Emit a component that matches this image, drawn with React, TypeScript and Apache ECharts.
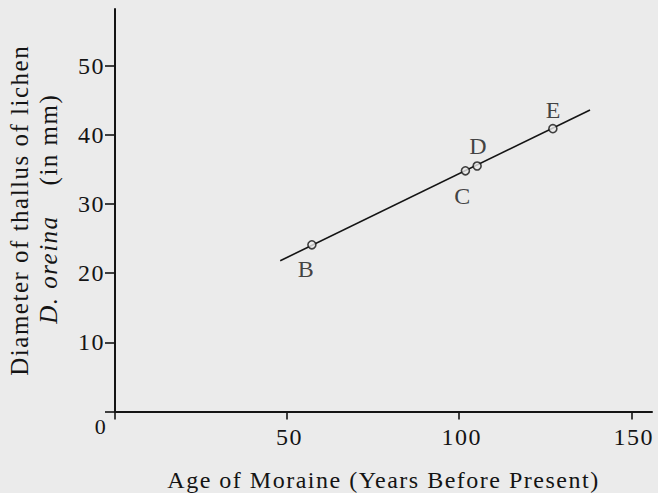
import React, { useEffect, useRef } from "react";
import * as echarts from "echarts";

// ---- data ----
const xTickValues = [0, 50, 100, 150];
const yTickValues = [0, 10, 20, 30, 40, 50];
const yLabelValues = [10, 20, 30, 40, 50];
const moraineNames = ["B", "C", "D", "E"];
const moraineAges = [57.2, 101.8, 105.2, 127.2];
const thallusDiameters = [24.1, 34.8, 35.5, 40.9];
const fitLineAges = [48, 138];
const fitLineDiameters = [21.8, 43.6];
const xAxisMax = 156;
const yAxisMax = 58.2;

const xTitle = "Age of Moraine (Years Before Present)";
const yTitleLine1 = "Diameter of thallus of lichen";
const yTitleSpecies = "D. oreina";
const yTitleUnit = "(in mm)";

const FONT = "'Liberation Serif', 'Times New Roman', serif";
const INK = "#141414";
const BG = "#ebebeb";

const labelPlacement: Record<string, { position: string; offset: number[] }> = {
  B: { position: "bottom", offset: [-5.5, 2.5] },
  C: { position: "bottom", offset: [-2.5, 3] },
  D: { position: "top", offset: [1.5, 2] },
  E: { position: "top", offset: [1, 3.5] },
};

export default function App() {
  const ref = useRef<HTMLDivElement>(null);
  useEffect(() => {
    if (!ref.current) return;
    const chart = echarts.init(ref.current, null, { renderer: "svg" });
    const scatterData = moraineNames.map((n, i) => ({
      name: n,
      value: [moraineAges[i], thallusDiameters[i]],
      label: labelPlacement[n],
    }));
    const lineData = fitLineAges.map((x, i) => [x, fitLineDiameters[i]]);
    chart.setOption({
      animation: false,
      backgroundColor: BG,
      grid: {
        left: 115,
        right: 6,
        top: 9,
        bottom: 81.5,
        containLabel: false,
        outerBoundsMode: "none",
      },
      xAxis: {
        type: "value",
        min: 0,
        max: xAxisMax,
        splitLine: { show: false },
        axisLine: { show: true, lineStyle: { color: INK, width: 2 } },
        axisTick: {
          show: true,
          customValues: xTickValues,
          length: 8,
          lineStyle: { color: INK, width: 1.6 },
        },
        axisLabel: {
          customValues: xTickValues,
          margin: 3.5,
          color: INK,
          fontFamily: FONT,
          fontSize: 24,
          formatter: (v: number) => (v === 0 ? "{z|0}" : "{n|" + v + "}"),
          rich: {
            n: { fontFamily: FONT, fontSize: 24, color: INK, padding: [10, 0, 0, 5] },
            z: { fontFamily: FONT, fontSize: 22, color: INK, padding: [0, 28, 0, 0] },
          },
        },
        name: xTitle,
        nameLocation: "middle",
        nameGap: 56,
        nameTextStyle: { fontFamily: FONT, fontSize: 24, color: INK },
      },
      yAxis: {
        type: "value",
        min: 0,
        max: yAxisMax,
        splitLine: { show: false },
        axisLine: { show: true, lineStyle: { color: INK, width: 2 } },
        axisTick: {
          show: true,
          customValues: yTickValues,
          length: 10,
          lineStyle: { color: INK, width: 1.6 },
        },
        axisLabel: {
          customValues: yLabelValues,
          margin: 10,
          color: INK,
          fontFamily: FONT,
          fontSize: 24,
          padding: [6, 0, 0, 0],
        },
        name:
          "{a|" + yTitleLine1 + "}\n{b|" + yTitleSpecies + "}{c|      " + yTitleUnit + "}",
        nameLocation: "middle",
        nameRotate: 90,
        nameGap: 52,
        nameTextStyle: {
          fontFamily: FONT,
          fontSize: 25,
          color: INK,
          rich: {
            a: { fontFamily: FONT, fontSize: 25, color: INK, lineHeight: 29 },
            b: { fontFamily: FONT, fontSize: 25, color: INK, fontStyle: "italic", lineHeight: 29 },
            c: { fontFamily: FONT, fontSize: 25, color: INK, lineHeight: 29 },
          },
        },
      },
      series: [
        {
          type: "line",
          data: lineData,
          symbol: "none",
          silent: true,
          lineStyle: { color: INK, width: 1.6 },
          z: 2,
        },
        {
          type: "scatter",
          data: scatterData,
          symbol: "circle",
          symbolSize: 8,
          itemStyle: { color: BG, borderColor: INK, borderWidth: 1.6 },
          label: {
            show: true,
            formatter: "{b}",
            fontFamily: FONT,
            fontSize: 24,
            color: INK,
            distance: 5,
          },
          z: 3,
        },
      ],
    });
    return () => chart.dispose();
  }, []);
  return (
    <div
      ref={ref}
      style={{
        position: "fixed",
        left: 0,
        top: 0,
        width: 658,
        height: 493,
        letterSpacing: "1.5px",
      }}
    />
  );
}
